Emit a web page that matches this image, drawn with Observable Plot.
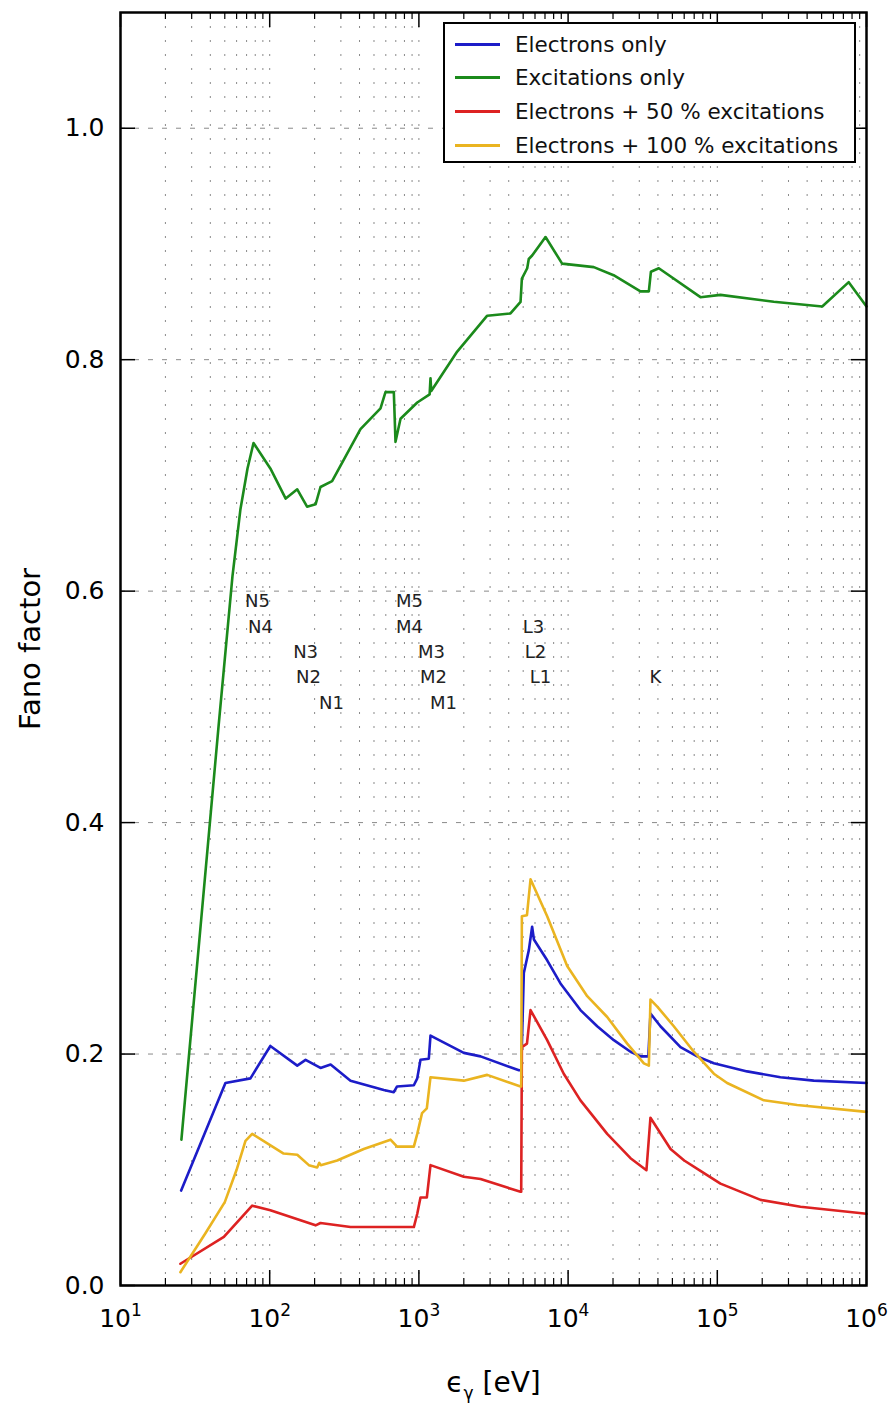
<!DOCTYPE html>
<html><head><meta charset="utf-8">
<script src="https://cdn.jsdelivr.net/npm/d3@7"></script>
<script src="https://cdn.jsdelivr.net/npm/@observablehq/plot@0.6"></script>
<style>
body{margin:0;background:#fff;font-family:"DejaVu Sans",sans-serif;}
#wrap{position:relative;width:896px;height:1405px;}
#legend{position:absolute;left:443px;top:22px;width:409px;height:137px;border:2px solid #000;background:#fff;}
.row{position:absolute;left:0;height:24px;display:flex;align-items:center;font-size:21.5px;color:#111;white-space:nowrap;}
.sw{width:45px;height:0;border-top:3px solid;margin-left:10px;margin-right:15px;}
</style></head><body><div id="wrap"></div>
<script>
// ---- data (photon energy in eV, Fano factor) ----
const seriesNames = ["Electrons only","Excitations only","Electrons + 50 % excitations","Electrons + 100 % excitations"];
const seriesColors = ["#1c1cc8","#1b8a1b","#dd2222","#eab420"];

const electronsOnly = [[25.5,0.082],[50.5,0.175],[74.3,0.179],[101,0.207],[153,0.190],[174,0.195],[219,0.188],[256,0.191],[348,0.177],[582,0.169],[679,0.167],[714,0.172],[925,0.173],[975,0.179],[1025,0.195],[1165,0.196],[1196,0.216],[2000,0.201],[2590,0.198],[4680,0.186],[4850,0.186],[5050,0.270],[5460,0.290],[5740,0.310],[5900,0.299],[7240,0.281],[8890,0.261],[12100,0.238],[15670,0.224],[20250,0.212],[26200,0.202],[30550,0.198],[34500,0.198],[35650,0.235],[41600,0.224],[56650,0.206],[73300,0.198],[94800,0.192],[158500,0.185],[265000,0.180],[443000,0.177],[1000000,0.175]];

const excitationsOnly = [[25.6,0.126],[45.4,0.483],[56.3,0.613],[63.7,0.671],[71.0,0.706],[77.9,0.728],[101,0.706],[128,0.680],[153,0.688],[178,0.673],[203,0.675],[219,0.690],[262,0.695],[406,0.740],[553,0.758],[597,0.772],[679,0.772],[697,0.729],[753,0.749],[975,0.763],[1180,0.770],[1196,0.784],[1210,0.773],[1806,0.807],[2870,0.838],[4110,0.840],[4800,0.850],[4900,0.870],[5320,0.879],[5450,0.887],[5740,0.890],[7060,0.906],[9120,0.883],[14870,0.880],[20180,0.873],[30550,0.859],[34770,0.859],[35900,0.876],[40550,0.879],[77100,0.854],[105000,0.856],[239000,0.850],[505000,0.846],[760000,0.867],[1000000,0.846]];

const electronsPlus50 = [[25.2,0.0188],[49.3,0.042],[76.3,0.069],[101,0.065],[203,0.052],[219,0.054],[348,0.0505],[925,0.0505],[975,0.062],[1025,0.076],[1130,0.076],[1196,0.104],[2000,0.094],[2590,0.092],[4800,0.081],[4850,0.081],[4900,0.206],[5300,0.209],[5600,0.238],[7240,0.212],[9350,0.183],[12100,0.160],[18280,0.131],[26200,0.110],[33500,0.0996],[35650,0.145],[48600,0.118],[60000,0.108],[77100,0.099],[105000,0.088],[195000,0.074],[361000,0.068],[1000000,0.062]];

const electronsPlus100 = [[25.2,0.0115],[37,0.045],[50,0.072],[60,0.100],[68.8,0.125],[76.3,0.131],[124,0.114],[153,0.113],[183,0.104],[208,0.102],[215,0.106],[220,0.104],[283,0.108],[427,0.118],[645,0.126],[714,0.120],[925,0.120],[975,0.131],[1050,0.149],[1130,0.153],[1196,0.180],[2000,0.177],[2870,0.182],[4800,0.172],[4850,0.172],[4900,0.319],[5300,0.320],[5600,0.351],[7240,0.319],[9860,0.276],[13430,0.250],[18280,0.232],[24900,0.209],[32200,0.192],[34770,0.190],[35650,0.247],[39600,0.241],[51100,0.224],[69600,0.202],[94800,0.183],[116400,0.175],[205000,0.160],[343000,0.156],[1000000,0.150]];

const edgeLabels = ["N5","N4","N3","N2","N1","M5","M4","M3","M2","M1","L3","L2","L1","K"];
const edgeE = [82.8,86.8,174,182,259,865,865,1214,1253,1462,5860,6040,6530,38500];
const edgeF = [0.591,0.569,0.547,0.526,0.503,0.591,0.569,0.547,0.526,0.503,0.569,0.547,0.526,0.526];

const xMajorTicks = [10,100,1000,10000,100000,1000000];
const yTicks = [0,0.2,0.4,0.6,0.8,1.0];
const xLabel = "ϵγ [eV]";
const yLabel = "Fano factor";

// ---- build ----
const allSeries = [electronsOnly, excitationsOnly, electronsPlus50, electronsPlus100];
const rows = [];
allSeries.forEach((arr, i) => arr.forEach(([e, f]) => rows.push({e, f, s: seriesNames[i]})));
const edges = edgeLabels.map((t, i) => ({t, e: edgeE[i], f: edgeF[i]}));
const xMinorTicks = [];
for (let k = 1; k < 6; k++) for (let m = 2; m <= 9; m++) xMinorTicks.push(m * Math.pow(10, k));
const gridX = xMinorTicks.concat(xMajorTicks.slice(1, -1));

const W = 896, H = 1405, mL = 120, mR = 30, mT = 12, mB = 120;
const fw = W - mL - mR, fh = H - mT - mB;

const chart = Plot.plot({
  width: W, height: H,
  marginLeft: mL, marginRight: mR, marginTop: mT, marginBottom: mB,
  style: {fontFamily: "DejaVu Sans, sans-serif", background: "white", color: "black"},
  x: {type: "log", domain: [10, 1e6]},
  y: {domain: [0, 1.1]},
  color: {domain: seriesNames, range: seriesColors},
  marks: [
    Plot.ruleX(gridX, {x: d => d, stroke: "#8a8a8a", strokeWidth: 1, strokeDasharray: "2,12"}),
    Plot.ruleY(yTicks.slice(1), {y: d => d, stroke: "#8a8a8a", strokeWidth: 1, strokeDasharray: "5,9"}),
    Plot.line(rows, {x: "e", y: "f", z: "s", stroke: "s", strokeWidth: 2.6, curve: "linear"}),
    Plot.text(edges, {x: "e", y: "f", text: "t", fontSize: 18, fill: "#222"}),
    // inward ticks
    Plot.tickX(xMajorTicks, {x: d => d, insetTop: fh - 15, stroke: "black", strokeWidth: 1.5}),
    Plot.tickX(xMinorTicks, {x: d => d, insetTop: fh - 7, stroke: "black", strokeWidth: 1.2}),
    Plot.tickX(xMajorTicks, {x: d => d, insetBottom: fh - 15, stroke: "black", strokeWidth: 1.5}),
    Plot.tickX(xMinorTicks, {x: d => d, insetBottom: fh - 7, stroke: "black", strokeWidth: 1.2}),
    Plot.tickY(yTicks, {y: d => d, insetRight: fw - 15, stroke: "black", strokeWidth: 1.5}),
    Plot.tickY(yTicks, {y: d => d, insetLeft: fw - 15, stroke: "black", strokeWidth: 1.5}),
    Plot.axisX(xMajorTicks, {tickSize: 0, tickPadding: 24, fontSize: 25, label: null,
      tickFormat: d => "10^" + Math.round(Math.log10(d))}),
    Plot.axisY(yTicks, {tickSize: 0, tickPadding: 16, fontSize: 25, label: null, tickFormat: d3.format(".1f")}),
    Plot.text([xLabel], {frameAnchor: "bottom", dy: 98, text: d => d, fontSize: 28, lineAnchor: "middle", textAnchor: "middle"}),
    Plot.text([yLabel], {frameAnchor: "left", dx: -90, text: d => d, fontSize: 29, rotate: -90, lineAnchor: "middle", textAnchor: "middle"}),
    Plot.frame({stroke: "black", strokeWidth: 2.5})
  ]
});

// superscripts / subscripts
d3.select(chart).selectAll("text").each(function() {
  const t = this.textContent;
  if (/^10\^\d$/.test(t)) {
    const k = t.slice(3);
    this.innerHTML = `10<tspan dy="-11" font-size="17">${k}</tspan>`;
  } else if (t === xLabel) {
    this.innerHTML = `ϵ<tspan dy="7" font-size="17">γ</tspan><tspan dy="-7"> [eV]</tspan>`;
  }
});

const wrap = document.getElementById("wrap");
wrap.appendChild(chart);

// legend (inside plot area, top right)
const legend = document.createElement("div");
legend.id = "legend";
seriesNames.forEach((name, i) => {
  const row = document.createElement("div");
  row.className = "row";
  row.style.top = (8 + i * 33.7) + "px";
  const sw = document.createElement("span");
  sw.className = "sw";
  sw.style.borderTopColor = seriesColors[i];
  const tx = document.createElement("span");
  tx.textContent = name;
  row.appendChild(sw); row.appendChild(tx);
  legend.appendChild(row);
});
wrap.appendChild(legend);
</script>
</body></html>
